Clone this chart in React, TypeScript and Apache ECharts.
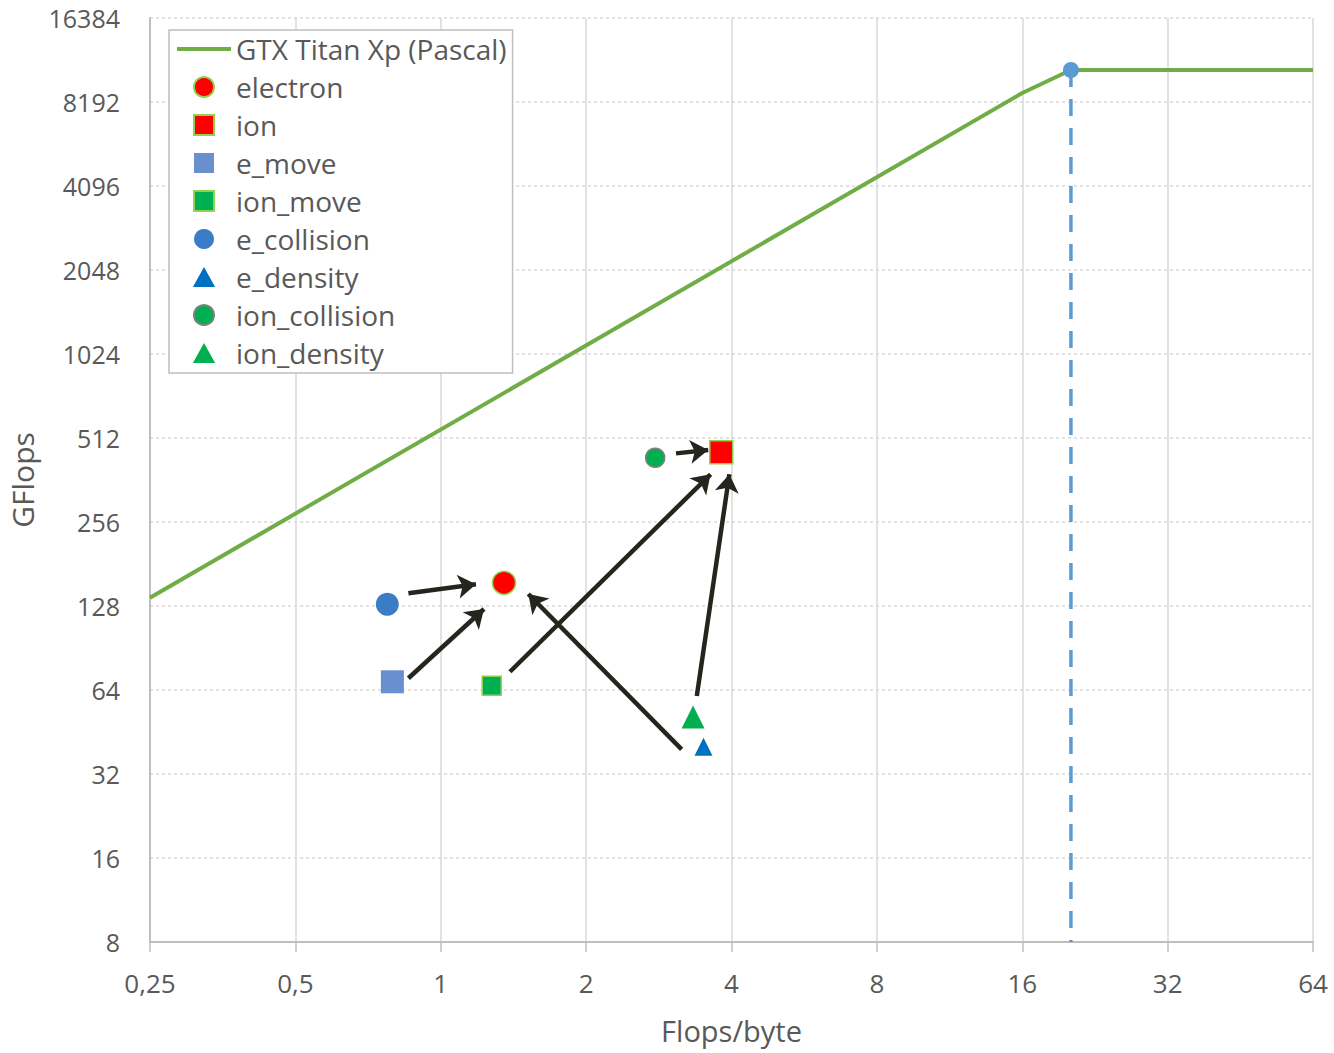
import React, { useEffect, useRef } from "react";
import * as echarts from "echarts";

const xTicks = [0.25, 0.5, 1, 2, 4, 8, 16, 32, 64];
const yTicks = [8, 16, 32, 64, 128, 256, 512, 1024, 2048, 4096, 8192, 16384];

const rooflineName = "GTX Titan Xp (Pascal)";
const rooflinePoints: [number, number][] = [
  [0.25, 137],
  [16, 8822],
  [20.18, 10669],
  [64, 10669],
];
const ridgeLine: [number, number][] = [
  [20.18, 10669],
  [20.18, 8],
];

const kernelNames = [
  "electron",
  "ion",
  "e_move",
  "ion_move",
  "e_collision",
  "e_density",
  "ion_collision",
  "ion_density",
];
const kernelX = [1.352, 3.81, 0.794, 1.275, 0.775, 3.5, 2.78, 3.33];
const kernelY = [155, 455, 68.5, 66.3, 129.8, 40.1, 435, 51.2];
const kernelSymbols = ["circle", "rect", "rect", "rect", "circle", "triangle", "circle", "triangle"];
const kernelSizes = [23, 23, 23, 19, 23, 18, 19, 23];
const kernelColors = ["#FF0000", "#FF0000", "#6A8FD1", "#00B050", "#3A7DC6", "#0070C0", "#00B050", "#00B050"];
const kernelBorders = ["#92D050", "#92D050", "#6A8FD1", "#92D050", "#3A7DC6", "#0070C0", "#7F7F7F", "#00B050"];
const kernelBorderWidths = [1.5, 1.5, 0, 1.5, 0, 0, 1.5, 0];

const arrowStarts: [number, number][] = [
  [0.857, 142.2],
  [0.857, 70.5],
  [1.391, 74.4],
  [3.154, 39.2],
  [3.39, 60.9],
  [3.07, 451],
];
const arrowEnds: [number, number][] = [
  [1.183, 153.1],
  [1.229, 124.9],
  [3.62, 379.5],
  [1.518, 141.3],
  [3.96, 379.5],
  [3.58, 463.7],
];

const textColor = "#595959";
const gridColor = "#D9D9D9";

const legendIcons: Record<string, string> = {
  circle: "circle",
  rect: "path://M0,0L10,0L10,10L0,10Z",
  triangle: "path://M5,0L10,9L0,9Z",
};

export default function App() {
  const ref = useRef<HTMLDivElement>(null);

  useEffect(() => {
    if (!ref.current) return;
    const chart = echarts.init(ref.current, undefined, { renderer: "svg" });

    const scatterSeries = kernelNames.map((name, i) => ({
      name,
      type: "scatter",
      symbol: kernelSymbols[i],
      symbolSize: kernelSizes[i],
      data: [[kernelX[i], kernelY[i]]],
      itemStyle: {
        color: kernelColors[i],
        borderColor: kernelBorders[i],
        borderWidth: kernelBorderWidths[i],
        opacity: 1,
      },
      z: 5,
    }));

    const option = {
      animation: false,
      backgroundColor: "#FFFFFF",
      grid: { left: 150, right: 21, top: 18, bottom: 111, containLabel: false, outerBoundsMode: "none" },
      legend: {
        orient: "vertical",
        left: 169,
        top: 30,
        data: [
          {
            name: rooflineName,
            itemStyle: { opacity: 0 },
            lineStyle: { color: "#70AD47", width: 4 },
          },
          ...kernelNames.map((n, i) => ({ name: n, icon: legendIcons[kernelSymbols[i]] })),
        ],
        itemWidth: 54,
        itemHeight: 20,
        itemGap: 8,
        symbolKeepAspect: true,
        padding: [4, 6, 5, 6],
        borderColor: "#BFBFBF",
        borderWidth: 1.5,
        backgroundColor: "#FFFFFF",
        textStyle: {
          fontFamily: "Open Sans",
          fontSize: 28,
          color: textColor,
          lineHeight: 30,
        },
      },
      xAxis: {
        type: "log",
        logBase: 2,
        min: xTicks[0],
        max: xTicks[xTicks.length - 1],
        interval: 1,
        name: "Flops/byte",
        nameLocation: "middle",
        nameGap: 74,
        nameTextStyle: { fontFamily: "Open Sans", fontSize: 29, color: textColor },
        axisLine: { show: true, lineStyle: { color: "#BFBFBF", width: 2 } },
        axisTick: { show: true, length: 10, lineStyle: { color: "#BFBFBF", width: 1.5 } },
        axisLabel: {
          margin: 28,
          fontFamily: "Open Sans",
          fontSize: 26,
          color: textColor,
          formatter: (v: number) => String(Math.round(v * 100) / 100).replace(".", ","),
        },
        splitLine: { show: true, lineStyle: { color: gridColor, width: 1.5 } },
      },
      yAxis: {
        type: "log",
        logBase: 2,
        min: yTicks[0],
        max: yTicks[yTicks.length - 1],
        interval: 1,
        name: "GFlops",
        nameLocation: "middle",
        nameGap: 110,
        nameRotate: 90,
        nameTextStyle: { fontFamily: "Open Sans", fontSize: 30, color: textColor },
        axisLine: { show: true, lineStyle: { color: "#BFBFBF", width: 2 } },
        axisTick: { show: false },
        axisLabel: {
          margin: 30,
          fontFamily: "Open Sans",
          fontSize: 25,
          color: textColor,
          formatter: (v: number) => String(Math.round(v)),
        },
        splitLine: { show: true, lineStyle: { color: gridColor, width: 1.5, type: [3, 3] } },
      },
      series: [
        {
          name: rooflineName,
          type: "line",
          symbol: "none",
          data: rooflinePoints,
          lineStyle: { color: "#70AD47", width: 4 },
          itemStyle: { color: "#70AD47" },
          z: 3,
        },
        {
          name: "ridge",
          type: "line",
          data: [
            { value: ridgeLine[0], symbol: "circle", symbolSize: 16 },
            { value: ridgeLine[1], symbol: "none" },
          ],
          lineStyle: { color: "#5B9BD5", width: 3.5, type: [17, 12] },
          itemStyle: { color: "#5B9BD5" },
          z: 4,
        },
        {
          name: "arrows",
          type: "lines",
          coordinateSystem: "cartesian2d",
          symbol: ["none", "arrow"],
          symbolSize: [16, 18],
          data: arrowStarts.map((s, i) => ({ coords: [s, arrowEnds[i]] })),
          lineStyle: { color: "#26251D", width: 4.5, opacity: 1, curveness: 0 },
          z: 4,
        },
        ...scatterSeries,
      ],
    };

    chart.setOption(option as any);
    return () => chart.dispose();
  }, []);

  return (
    <div
      ref={ref}
      style={{ position: "absolute", left: 0, top: 0, width: 1334, height: 1053 }}
    />
  );
}
